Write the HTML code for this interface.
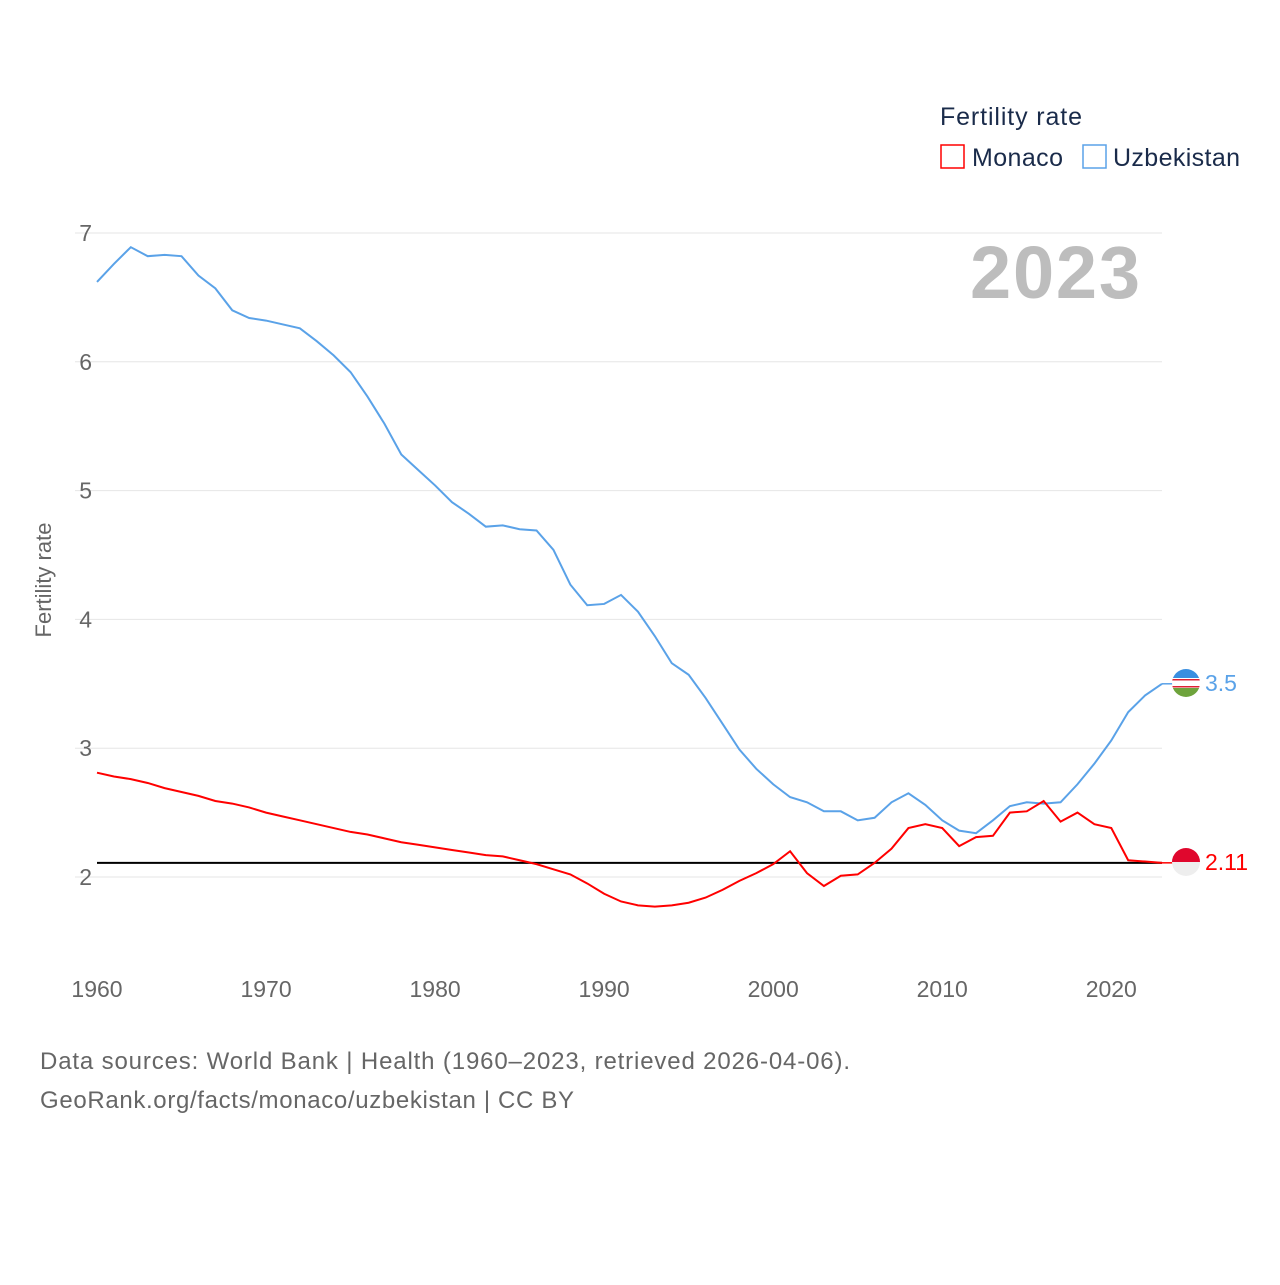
<!DOCTYPE html>
<html><head><meta charset="utf-8"><style>
body{margin:0;background:#fff;font-family:"Liberation Sans",sans-serif}
svg text{font-family:"Liberation Sans",sans-serif}
</style></head><body>
<svg id="c" width="1280" height="1280" xmlns="http://www.w3.org/2000/svg">
<defs>
<clipPath id="cu"><circle cx="1186" cy="683" r="14"/></clipPath>
<clipPath id="cm"><circle cx="1186" cy="862" r="14"/></clipPath>
</defs>
<g id="grid"></g>
<g id="lines"></g>
<text x="1140" y="298" text-anchor="end" font-size="74" font-weight="bold" fill="#bdbdbd" textLength="170">2023</text>
<text x="940" y="125" font-size="25" fill="#1a2b4a" textLength="142">Fertility rate</text>
<g><rect x="941" y="145" width="23" height="23" fill="none" stroke="#ff0000" stroke-width="1.5"/><text x="972" y="166" font-size="25" fill="#1a2b4a" textLength="91">Monaco</text></g>
<g><rect x="1083" y="145" width="23" height="23" fill="none" stroke="#5aa2e8" stroke-width="1.5"/><text x="1113" y="166" font-size="25" fill="#1a2b4a" textLength="127">Uzbekistan</text></g>
<text transform="translate(51,580) rotate(-90)" text-anchor="middle" font-size="22" fill="#666">Fertility rate</text>
<g clip-path="url(#cu)"><rect x="1170" y="668" width="32" height="10" fill="#3a8fe0"/><rect x="1170" y="678" width="32" height="10" fill="#fff"/><rect x="1170" y="679" width="32" height="1.5" fill="#d23"/><rect x="1170" y="686" width="32" height="1.5" fill="#d23"/><rect x="1170" y="688" width="32" height="10" fill="#6ea33c"/></g>
<text x="1205" y="691" font-size="23" fill="#5aa2e8">3.5</text>
<g clip-path="url(#cm)"><rect x="1170" y="847" width="32" height="15" fill="#e0072d"/><rect x="1170" y="862" width="32" height="15" fill="#eee"/></g>
<text x="1205" y="870" font-size="23" fill="#ff0000">2.11</text>
<text x="40" y="1069" font-size="24" fill="#666" textLength="810">Data sources: World Bank | Health (1960–2023, retrieved 2026-04-06).</text>
<text x="40" y="1108" font-size="24" fill="#666" textLength="534">GeoRank.org/facts/monaco/uzbekistan | CC BY</text>
</svg>
<script>
const years=[];for(let y=1960;y<=2023;y++)years.push(y);
const uzbekistan=[6.62,6.76,6.89,6.82,6.83,6.82,6.67,6.57,6.40,6.34,6.32,6.29,6.26,6.16,6.05,5.92,5.73,5.52,5.28,5.16,5.04,4.91,4.82,4.72,4.73,4.70,4.69,4.54,4.27,4.11,4.12,4.19,4.06,3.87,3.66,3.57,3.39,3.19,2.99,2.84,2.72,2.62,2.58,2.51,2.51,2.44,2.46,2.58,2.65,2.56,2.44,2.36,2.34,2.44,2.55,2.58,2.57,2.58,2.72,2.88,3.06,3.28,3.41,3.50];
const monaco=[2.81,2.78,2.76,2.73,2.69,2.66,2.63,2.59,2.57,2.54,2.50,2.47,2.44,2.41,2.38,2.35,2.33,2.30,2.27,2.25,2.23,2.21,2.19,2.17,2.16,2.13,2.10,2.06,2.02,1.95,1.87,1.81,1.78,1.77,1.78,1.80,1.84,1.90,1.97,2.03,2.10,2.20,2.03,1.93,2.01,2.02,2.11,2.22,2.38,2.41,2.38,2.24,2.31,2.32,2.50,2.51,2.59,2.43,2.50,2.41,2.38,2.13,2.12,2.11];
const yTicks=[2,3,4,5,6,7];
const xTicks=[1960,1970,1980,1990,2000,2010,2020];
const refValue=2.11;
const NS="http://www.w3.org/2000/svg";
const xs=y=>97+(y-1960)*(1162-97)/63;
const ys=v=>877-(v-2)*(877-233)/5;
const grid=document.getElementById('grid'),lines=document.getElementById('lines');
yTicks.forEach(t=>{
 const l=document.createElementNS(NS,'line');
 l.setAttribute('x1',75);l.setAttribute('x2',1162);l.setAttribute('y1',ys(t));l.setAttribute('y2',ys(t));
 l.setAttribute('stroke','#e6e6e6');
 
 
 grid.appendChild(l);
 const tx=document.createElementNS(NS,'text');
 tx.setAttribute('x',92);tx.setAttribute('y',ys(t)+8);tx.setAttribute('text-anchor','end');
 tx.setAttribute('font-size','23');tx.setAttribute('fill','#666');tx.textContent=t;
 
 
 grid.appendChild(tx);
});
xTicks.forEach(t=>{
 const tx=document.createElementNS(NS,'text');
 tx.setAttribute('x',xs(t));tx.setAttribute('y',997);tx.setAttribute('text-anchor','middle');
 tx.setAttribute('font-size','23');tx.setAttribute('fill','#666');tx.textContent=t;
 
 
 grid.appendChild(tx);
});
const ref=document.createElementNS(NS,'line');
ref.setAttribute('x1',97);ref.setAttribute('x2',1162);ref.setAttribute('y1',ys(refValue));ref.setAttribute('y2',ys(refValue));
ref.setAttribute('stroke','#000');ref.setAttribute('stroke-width','2');


lines.appendChild(ref);
function series(vals,color,name){
 const p=document.createElementNS(NS,'polyline');
 p.setAttribute('points',vals.map((v,i)=>xs(years[i])+','+ys(v)).join(' '));
 p.setAttribute('fill','none');p.setAttribute('stroke',color);p.setAttribute('stroke-width','2');
 
 
 lines.appendChild(p);
 const c=document.createElementNS(NS,'line');
 c.setAttribute('x1',xs(2023));c.setAttribute('x2',1175);c.setAttribute('y1',ys(vals[vals.length-1]));c.setAttribute('y2',ys(vals[vals.length-1]));
 c.setAttribute('stroke',color);c.setAttribute('stroke-width','1.5');
 
 
 lines.appendChild(c);
}
series(uzbekistan,'#5aa2e8','uzbekistan-line');
series(monaco,'#ff0000','monaco-line');
</script>
</body></html>
